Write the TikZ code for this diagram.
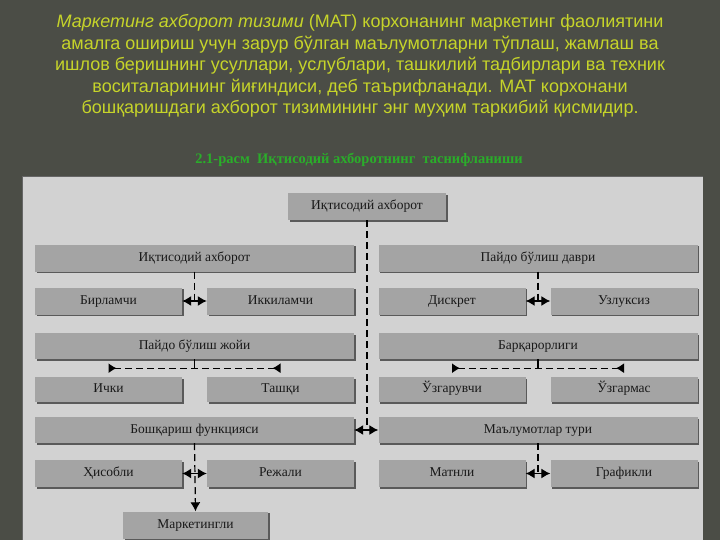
\documentclass[tikz,border=0pt]{standalone}
\usepackage{fontspec}
\setmainfont{Liberation Serif}
\newfontfamily\titlefont{Liberation Sans}
\usetikzlibrary{arrows.meta,shadows,calc}
\definecolor{bgdark}{HTML}{4B4D46}
\definecolor{panel}{HTML}{D2D2D2}
\definecolor{boxfill}{HTML}{A4A4A4}
\definecolor{boxshadow}{HTML}{5A5A5A}
\definecolor{titlecol}{HTML}{C6D42A}
\definecolor{capcol}{HTML}{2AAE2A}
\tikzset{
  box/.style={draw=none, fill=boxfill, minimum height=27pt, inner sep=0pt,
    font=\fontsize{13.5}{15}\selectfont, text=black!90, text height=9pt, text depth=3pt,
    general shadow={fill=boxshadow, shadow xshift=1.5pt, shadow yshift=-1.8pt}},
  bigbox/.style={box, minimum width=319pt},
  smallbox/.style={box, minimum width=147pt},
  dline/.style={line width=1.2pt, dash pattern=on 7pt off 4pt},
  dbl/.style={line width=1.2pt, {Latex[length=9pt,width=10pt]}-{Latex[length=9pt,width=10pt]}},
  inw/.style={line width=1.2pt, dash pattern=on 7pt off 4pt, {Latex[length=8pt,width=10pt,reversed]}-{Latex[length=8pt,width=10pt,reversed]}},
  downarr/.style={line width=1.2pt, dash pattern=on 7pt off 4pt, -{Latex[length=9pt,width=10pt]}},
  ttl/.style={text=titlecol, font=\titlefont\fontsize{18}{21.5}\selectfont, align=center}
}
\begin{document}
\begin{tikzpicture}[x=1pt,y=-1pt]
\useasboundingbox (0,0) rectangle (720,540);
\fill[bgdark] (0,0) rectangle (720,540);
\fill[panel] (22,177) rectangle (703,545);
\draw[black!60, line width=1pt] (22,545) -- (22,177) -- (703,177);
% title
\node[ttl] (title) at (360,66) {\textit{Маркетинг ахборот тизими} (МАТ) корхонанинг маркетинг фаолиятини\\
амалга ошириш учун зарур бўлган маълумотларни тўплаш, жамлаш ва\\
ишлов беришнинг усуллари, услублари, ташкилий тадбирлари ва техник\\
воситаларининг йиғиндиси, деб таърифланади. МАТ корхонани\\
бошқаришдаги ахборот тизимининг энг муҳим таркибий қисмидир.};
\node[text=capcol, font=\bfseries\fontsize{14.5}{16}\selectfont] (cap) at (359,160) {2.1-расм\ \ Иқтисодий ахборотнинг\ \ таснифланиши};
% boxes
\node[box, minimum width=158pt] (top) at (367,206.5) {Иқтисодий ахборот};
\node[bigbox] (L1) at (194.5,258) {Иқтисодий ахборот};
\node[bigbox] (R1) at (538,258) {Пайдо бўлиш даври};
\node[smallbox] (L2a) at (108.5,301) {Бирламчи};
\node[smallbox] (L2b) at (280.5,301) {Иккиламчи};
\node[smallbox] (R2a) at (452,301) {Дискрет};
\node[smallbox] (R2b) at (624,301) {Узлуксиз};
\node[bigbox, minimum height=26pt] (L3) at (194.5,346) {Пайдо бўлиш жойи};
\node[bigbox, minimum height=26pt] (R3) at (538,346) {Барқарорлиги};
\node[smallbox, minimum height=25pt] (L4a) at (108.5,389.5) {Ички};
\node[smallbox, minimum height=25pt] (L4b) at (280.5,389.5) {Ташқи};
\node[smallbox, minimum height=25pt] (R4a) at (452,389.5) {Ўзгарувчи};
\node[smallbox, minimum height=25pt] (R4b) at (624,389.5) {Ўзгармас};
\node[bigbox, minimum height=26pt] (L5) at (194.5,430) {Бошқариш функцияси};
\node[bigbox, minimum height=26pt] (R5) at (538,430) {Маълумотлар тури};
\node[smallbox] (L6a) at (108.5,473.5) {Ҳисобли};
\node[smallbox] (L6b) at (280.5,473.5) {Режали};
\node[smallbox] (R6a) at (452,473.5) {Матнли};
\node[smallbox] (R6b) at (624,473.5) {Графикли};
\node[box, minimum width=145pt] (M) at (195.5,525) {Маркетингли};
% connectors
\coordinate (mid5) at (367,430);
\draw[dline] (top.south) -- (mid5);
\draw[dbl] (L5.east) -- (R5.west);
\draw[dline] (L1.south) -- (L1.south |- L2a.east);
\draw[dbl] (L2a.east) -- (L2b.west);
\draw[dline] (R1.south) -- (R1.south |- R2a.east);
\draw[dbl] (R2a.east) -- (R2b.west);
\coordinate (sL) at ($(L3.south)+(0,9)$);
\coordinate (sR) at ($(R3.south)+(0,9)$);
\draw[line width=1.2pt] (L3.south) -- (sL);
\draw[line width=1.2pt] (R3.south) -- (sR);
\draw[inw] (L4a.north |- sL) -- (L4b.north |- sL);
\draw[inw] (R4a.north |- sR) -- (R4b.north |- sR);
\draw[downarr] (L5.south) -- (M.north);
\draw[dbl] (L6a.east) -- (L6b.west);
\draw[dline] (R5.south) -- (R5.south |- R6a.east);
\draw[dbl] (R6a.east) -- (R6b.west);
\end{tikzpicture}
\end{document}
